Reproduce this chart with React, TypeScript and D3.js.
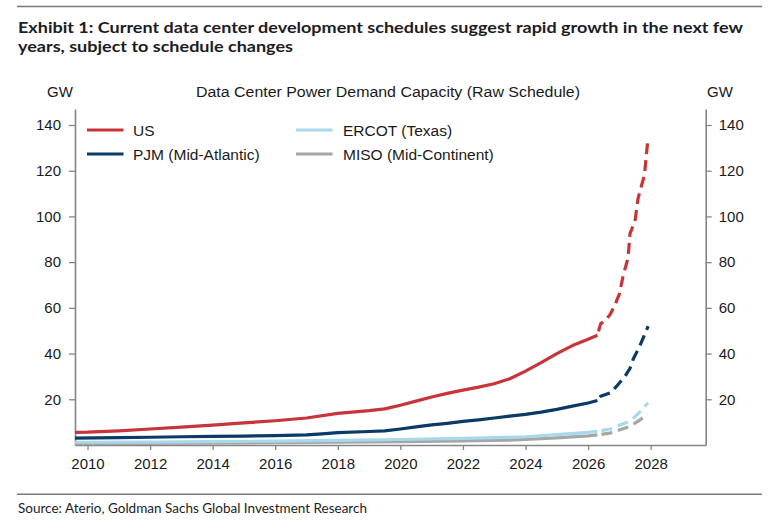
import React, { useEffect, useRef } from "react";
import * as d3 from "d3";

const WIDTH = 779;
const HEIGHT = 529;

// Axis ticks
const yearTicks = [2010, 2012, 2014, 2016, 2018, 2020, 2022, 2024, 2026, 2028];
const gwTicks = [20, 40, 60, 80, 100, 120, 140];

// Schedules after this point are drawn dashed
const scheduleBreak = 2026.3;

// US
const usYears = [
  2009.6, 2010, 2011, 2012, 2013, 2014, 2015, 2016, 2017, 2018, 2019, 2019.5, 2020, 2020.5,
  2021, 2021.5, 2022, 2022.5, 2023, 2023.5, 2024, 2024.5, 2025, 2025.5, 2026, 2026.3,
  2026.4, 2026.55, 2026.7, 2026.85, 2027.0, 2027.12, 2027.28, 2027.34, 2027.5, 2027.6,
  2027.8, 2027.9,
];
const usGW = [
  5.5, 5.6, 6.2, 7.0, 7.8, 8.7, 9.7, 10.6, 11.8, 13.8, 15.0, 15.8, 17.4, 19.2,
  21.0, 22.6, 24.0, 25.3, 26.8, 29.0, 32.3, 36.0, 40.0, 43.5, 46.3, 48.0,
  53.0, 54.5, 57.0, 61.0, 66.0, 74.0, 82.0, 92.5, 98.0, 108.0,
  118.0, 132.0,
];

// PJM (Mid-Atlantic)
const pjmYears = [
  2009.6, 2011, 2012, 2013, 2014, 2015, 2016, 2017, 2017.5, 2018, 2019, 2019.5, 2020, 2020.5,
  2021, 2021.5, 2022, 2022.5, 2023, 2023.5, 2024, 2024.5, 2025, 2025.5, 2026, 2026.3,
  2026.4, 2026.7, 2026.9, 2027.18, 2027.34, 2027.44, 2027.66, 2027.92,
];
const pjmGW = [
  3.0, 3.2, 3.4, 3.6, 3.8, 3.9, 4.1, 4.4, 4.9, 5.4, 5.9, 6.2, 7.0, 7.9,
  8.8, 9.5, 10.3, 11.0, 11.8, 12.6, 13.4, 14.4, 15.6, 17.0, 18.4, 19.5,
  21.3, 22.8, 25.5, 30.0, 33.5, 37.5, 43.5, 52.0,
];

// ERCOT (Texas)
const ercotYears = [
  2009.6, 2012, 2014, 2016, 2018, 2020, 2022, 2023.4, 2024, 2025, 2026, 2026.3,
  2026.7, 2027.0, 2027.34, 2027.66, 2027.92,
];
const ercotGW = [
  1.2, 1.3, 1.5, 1.7, 2.0, 2.4, 2.9, 3.3, 3.6, 4.5, 5.5, 6.0,
  7.0, 8.6, 10.4, 14.5, 18.5,
];

// MISO (Mid-Continent)
const misoYears = [
  2009.6, 2012, 2014, 2016, 2018, 2020, 2022, 2023.4, 2024, 2025, 2026, 2026.3,
  2026.7, 2027.0, 2027.34, 2027.66, 2027.9,
];
const misoGW = [
  0.6, 0.7, 0.8, 1.0, 1.2, 1.5, 1.8, 2.1, 2.4, 3.1, 4.0, 4.4,
  5.2, 6.6, 8.1, 11.0, 13.5,
];

const seriesNames = ["US", "PJM (Mid-Atlantic)", "ERCOT (Texas)", "MISO (Mid-Continent)"];
const seriesColors = ["#c9343a", "#0b3a66", "#a9d8ea", "#a6a6a6"];
const seriesYears = [usYears, pjmYears, ercotYears, misoYears];
const seriesValues = [usGW, pjmGW, ercotGW, misoGW];

const AXIS_COLOR = "#858585";
const TEXT_COLOR = "#1a1a1a";
const CHART_FONT = "'Liberation Sans', Arial, sans-serif";
const TITLE_FONT = "Lato, 'Open Sans', sans-serif";

export default function App() {
  const ref = useRef<SVGSVGElement | null>(null);

  useEffect(() => {
    const svg = d3.select(ref.current);
    svg.selectAll("*").remove();

    const x = d3.scaleLinear().domain([2009.6, 2029.76]).range([75, 705.7]);
    const y = d3.scaleLinear().domain([0, 147]).range([445, 109]);

    // Rules and titles
    svg.append("line").attr("x1", 17).attr("x2", 762).attr("y1", 6.5).attr("y2", 6.5)
      .attr("stroke", "#7a7a7a").attr("stroke-width", 1.5);
    svg.append("line").attr("x1", 17).attr("x2", 762).attr("y1", 494.3).attr("y2", 494.3)
      .attr("stroke", "#7a7a7a").attr("stroke-width", 1.5);

    const title = [
      { text: "Exhibit 1: Current data center development schedules suggest rapid growth in the next few", y: 33, len: 725 },
      { text: "years, subject to schedule changes", y: 51.5, len: 275 },
    ];
    title.forEach((t) => {
      svg.append("text").attr("x", 18).attr("y", t.y)
        .attr("font-family", TITLE_FONT).attr("font-weight", 700).attr("font-size", 16)
        .attr("fill", "#1c1c24")
        .attr("textLength", t.len).attr("lengthAdjust", "spacingAndGlyphs")
        .text(t.text);
    });

    svg.append("text").attr("x", 18).attr("y", 513)
      .attr("font-family", TITLE_FONT).attr("font-size", 14).attr("fill", "#1c1c24")
      .attr("textLength", 349).attr("lengthAdjust", "spacingAndGlyphs")
      .text("Source: Aterio, Goldman Sachs Global Investment Research");

    // Chart heading and units
    svg.append("text").attr("x", 196).attr("y", 97)
      .attr("font-family", CHART_FONT).attr("font-size", 15.5).attr("fill", TEXT_COLOR)
      .attr("textLength", 384).attr("lengthAdjust", "spacingAndGlyphs")
      .text("Data Center Power Demand Capacity (Raw Schedule)");
    svg.append("text").attr("x", 60).attr("y", 96.5).attr("text-anchor", "middle")
      .attr("font-family", CHART_FONT).attr("font-size", 15).attr("fill", TEXT_COLOR).text("GW");
    svg.append("text").attr("x", 720).attr("y", 96.5).attr("text-anchor", "middle")
      .attr("font-family", CHART_FONT).attr("font-size", 15).attr("fill", TEXT_COLOR).text("GW");

    // Axes
    const styleAxis = (g: d3.Selection<SVGGElement, unknown, null, undefined>) => {
      g.select(".domain").attr("stroke", AXIS_COLOR).attr("stroke-width", 1.6);
      g.selectAll(".tick line").attr("stroke", AXIS_COLOR).attr("stroke-width", 1.3);
      g.selectAll(".tick text").attr("fill", TEXT_COLOR)
        .attr("font-family", CHART_FONT).attr("font-size", 15);
    };

    const left = svg.append("g").attr("transform", "translate(75,0)")
      .call(d3.axisLeft(y).tickValues(gwTicks).tickSize(6).tickSizeOuter(0).tickPadding(8));
    styleAxis(left);
    left.attr("font-family", null).attr("font-size", null);

    const right = svg.append("g").attr("transform", "translate(705.7,0)")
      .call(d3.axisRight(y).tickValues(gwTicks).tickSize(6).tickSizeOuter(0).tickPadding(7));
    styleAxis(right);
    right.attr("font-family", null).attr("font-size", null);

    const bottom = svg.append("g").attr("transform", `translate(0,${y(0)})`)
      .call(d3.axisBottom(x).tickValues(yearTicks).tickSize(5).tickSizeOuter(0)
        .tickPadding(8).tickFormat(d3.format("d")));
    styleAxis(bottom);
    bottom.attr("font-family", null).attr("font-size", null);

    // Series lines: solid for built history, dashed for scheduled capacity
    const line = d3.line<[number, number]>().x((d) => x(d[0])).y((d) => y(d[1]));
    const plot = svg.append("g");
    for (let i = seriesNames.length - 1; i >= 0; i--) {
      const pts: [number, number][] = seriesYears[i].map((yr, j) => [yr, seriesValues[i][j]]);
      const solid = pts.filter((p) => p[0] <= scheduleBreak);
      const dashed = pts.filter((p) => p[0] >= scheduleBreak);
      plot.append("path").attr("d", line(solid)).attr("fill", "none")
        .attr("stroke", seriesColors[i]).attr("stroke-width", 3.2)
        .attr("stroke-linejoin", "round");
      plot.append("path").attr("d", line(dashed)).attr("fill", "none")
        .attr("stroke", seriesColors[i]).attr("stroke-width", 3.2)
        .attr("stroke-dasharray", "11,6").attr("stroke-dashoffset", -4)
        .attr("stroke-linejoin", "round");
    }

    // Legend
    const legendPos = [
      { lx: 87, tx: 133, y: 130 },
      { lx: 87, tx: 133, y: 154 },
      { lx: 296, tx: 343, y: 130 },
      { lx: 296, tx: 343, y: 154 },
    ];
    seriesNames.forEach((name, i) => {
      const p = legendPos[i];
      svg.append("line").attr("x1", p.lx).attr("x2", p.lx + 36.5).attr("y1", p.y).attr("y2", p.y)
        .attr("stroke", seriesColors[i]).attr("stroke-width", 3.2);
      svg.append("text").attr("x", p.tx).attr("y", p.y + 5.5)
        .attr("font-family", CHART_FONT).attr("font-size", 15.5).attr("fill", TEXT_COLOR)
        .text(name);
    });
  }, []);

  return (
    <svg
      ref={ref}
      width={WIDTH}
      height={HEIGHT}
      viewBox={`0 0 ${WIDTH} ${HEIGHT}`}
      style={{ position: "absolute", left: 0, top: 0, background: "#ffffff" }}
    />
  );
}
